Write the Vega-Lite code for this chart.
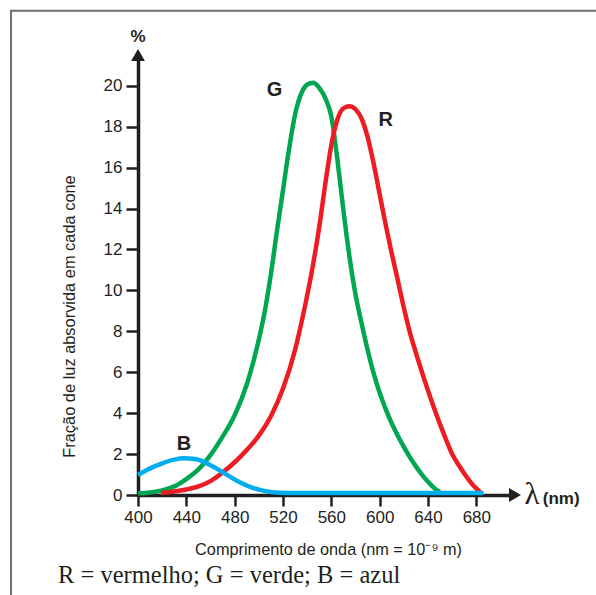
{
  "$schema": "https://vega.github.io/schema/vega-lite/v6.json",
  "width": 377,
  "height": 442,
  "autosize": {"type": "none"},
  "padding": {"left": 138, "top": 53, "right": 81, "bottom": 100},
  "background": "white",
  "config": {"view": {"stroke": null}, "font": "Liberation Sans"},
  "resolve": {"axis": {"x": "independent", "y": "independent"}},
  "datasets": {
    "curves": [
      {"cone": "G", "wavelength": 400, "value": 0.08},
      {"cone": "G", "wavelength": 410, "value": 0.12},
      {"cone": "G", "wavelength": 420, "value": 0.22},
      {"cone": "G", "wavelength": 430, "value": 0.42},
      {"cone": "G", "wavelength": 440, "value": 0.78},
      {"cone": "G", "wavelength": 450, "value": 1.25},
      {"cone": "G", "wavelength": 460, "value": 1.95},
      {"cone": "G", "wavelength": 470, "value": 2.85},
      {"cone": "G", "wavelength": 480, "value": 3.9},
      {"cone": "G", "wavelength": 490, "value": 5.4},
      {"cone": "G", "wavelength": 500, "value": 7.6},
      {"cone": "G", "wavelength": 505, "value": 9.0},
      {"cone": "G", "wavelength": 510, "value": 10.8},
      {"cone": "G", "wavelength": 515, "value": 12.9},
      {"cone": "G", "wavelength": 520, "value": 14.9},
      {"cone": "G", "wavelength": 525, "value": 16.9},
      {"cone": "G", "wavelength": 530, "value": 18.6},
      {"cone": "G", "wavelength": 535, "value": 19.6},
      {"cone": "G", "wavelength": 540, "value": 20.05},
      {"cone": "G", "wavelength": 545, "value": 20.15},
      {"cone": "G", "wavelength": 550, "value": 19.9},
      {"cone": "G", "wavelength": 555, "value": 19.4},
      {"cone": "G", "wavelength": 560, "value": 18.5},
      {"cone": "G", "wavelength": 565, "value": 16.4},
      {"cone": "G", "wavelength": 570, "value": 13.9},
      {"cone": "G", "wavelength": 575, "value": 11.65},
      {"cone": "G", "wavelength": 580, "value": 9.8},
      {"cone": "G", "wavelength": 585, "value": 8.4},
      {"cone": "G", "wavelength": 590, "value": 7.1},
      {"cone": "G", "wavelength": 595, "value": 5.95},
      {"cone": "G", "wavelength": 600, "value": 5.0},
      {"cone": "G", "wavelength": 605, "value": 4.2},
      {"cone": "G", "wavelength": 610, "value": 3.5},
      {"cone": "G", "wavelength": 615, "value": 2.9},
      {"cone": "G", "wavelength": 620, "value": 2.35},
      {"cone": "G", "wavelength": 625, "value": 1.85},
      {"cone": "G", "wavelength": 630, "value": 1.4},
      {"cone": "G", "wavelength": 635, "value": 1.0},
      {"cone": "G", "wavelength": 640, "value": 0.65},
      {"cone": "G", "wavelength": 645, "value": 0.35},
      {"cone": "G", "wavelength": 650, "value": 0.12},
      {"cone": "R", "wavelength": 419, "value": 0.1},
      {"cone": "R", "wavelength": 430, "value": 0.17},
      {"cone": "R", "wavelength": 440, "value": 0.27},
      {"cone": "R", "wavelength": 450, "value": 0.42},
      {"cone": "R", "wavelength": 460, "value": 0.68},
      {"cone": "R", "wavelength": 470, "value": 1.1},
      {"cone": "R", "wavelength": 480, "value": 1.6},
      {"cone": "R", "wavelength": 490, "value": 2.2},
      {"cone": "R", "wavelength": 500, "value": 2.9},
      {"cone": "R", "wavelength": 510, "value": 3.85},
      {"cone": "R", "wavelength": 520, "value": 5.2},
      {"cone": "R", "wavelength": 530, "value": 7.1},
      {"cone": "R", "wavelength": 537, "value": 8.9},
      {"cone": "R", "wavelength": 545, "value": 11.3},
      {"cone": "R", "wavelength": 550, "value": 13.1},
      {"cone": "R", "wavelength": 555, "value": 15.2},
      {"cone": "R", "wavelength": 560, "value": 17.1},
      {"cone": "R", "wavelength": 565, "value": 18.35},
      {"cone": "R", "wavelength": 570, "value": 18.9},
      {"cone": "R", "wavelength": 575, "value": 19.0},
      {"cone": "R", "wavelength": 580, "value": 18.85},
      {"cone": "R", "wavelength": 585, "value": 18.4},
      {"cone": "R", "wavelength": 590, "value": 17.5},
      {"cone": "R", "wavelength": 595, "value": 16.2},
      {"cone": "R", "wavelength": 600, "value": 14.7},
      {"cone": "R", "wavelength": 605, "value": 13.2},
      {"cone": "R", "wavelength": 610, "value": 11.8},
      {"cone": "R", "wavelength": 615, "value": 10.5},
      {"cone": "R", "wavelength": 620, "value": 9.15},
      {"cone": "R", "wavelength": 625, "value": 7.95},
      {"cone": "R", "wavelength": 630, "value": 6.95},
      {"cone": "R", "wavelength": 635, "value": 6.0},
      {"cone": "R", "wavelength": 640, "value": 5.1},
      {"cone": "R", "wavelength": 645, "value": 4.25},
      {"cone": "R", "wavelength": 650, "value": 3.45},
      {"cone": "R", "wavelength": 655, "value": 2.7},
      {"cone": "R", "wavelength": 660, "value": 2.0},
      {"cone": "R", "wavelength": 665, "value": 1.5},
      {"cone": "R", "wavelength": 670, "value": 1.05},
      {"cone": "R", "wavelength": 677, "value": 0.5},
      {"cone": "R", "wavelength": 683, "value": 0.15},
      {"cone": "B", "wavelength": 400, "value": 0.98},
      {"cone": "B", "wavelength": 410, "value": 1.3},
      {"cone": "B", "wavelength": 420, "value": 1.55},
      {"cone": "B", "wavelength": 430, "value": 1.73},
      {"cone": "B", "wavelength": 438, "value": 1.79},
      {"cone": "B", "wavelength": 445, "value": 1.77},
      {"cone": "B", "wavelength": 451, "value": 1.7},
      {"cone": "B", "wavelength": 460, "value": 1.45},
      {"cone": "B", "wavelength": 470, "value": 1.12},
      {"cone": "B", "wavelength": 476, "value": 0.9},
      {"cone": "B", "wavelength": 485, "value": 0.6},
      {"cone": "B", "wavelength": 495, "value": 0.35},
      {"cone": "B", "wavelength": 501, "value": 0.25},
      {"cone": "B", "wavelength": 510, "value": 0.15},
      {"cone": "B", "wavelength": 518, "value": 0.11},
      {"cone": "B", "wavelength": 530, "value": 0.1},
      {"cone": "B", "wavelength": 686, "value": 0.1}
    ],
    "labels": [
      {"cone": "G", "wavelength": 513, "value": 19.8},
      {"cone": "R", "wavelength": 605, "value": 18.33},
      {"cone": "B", "wavelength": 438, "value": 2.49}
    ]
  },
  "layer": [
    {
      "data": {"values": [{"frame": 1}]},
      "mark": {"type": "rect", "fillOpacity": 0, "fill": "white", "stroke": "#6f6f6f", "strokeWidth": 2},
      "encoding": {
        "x": {"datum": 294.9, "type": "quantitative", "scale": {"domain": [400, 712], "nice": false, "zero": false}, "axis": null},
        "x2": {"datum": 900},
        "y": {"datum": 23.66, "type": "quantitative", "scale": {"domain": [0, 21.6], "nice": false}, "axis": null},
        "y2": {"datum": -8}
      }
    },
    {
      "data": {"name": "curves"},
      "mark": {"type": "line", "interpolate": "monotone", "strokeWidth": 4.5, "strokeCap": "butt"},
      "encoding": {
        "x": {
          "field": "wavelength", "type": "quantitative",
          "scale": {"domain": [400, 712], "nice": false, "zero": false},
          "axis": {
            "values": [400, 440, 480, 520, 560, 600, 640, 680],
            "title": "Comprimento de onda (nm = 10⁻⁹ m)",
            "titleFontSize": 16.3, "titleFontWeight": "normal", "titleColor": "#231f20",
            "titleX": 190, "titleY": 59, "titleAlign": "center", "titleBaseline": "alphabetic", "titleAnchor": null,
            "labelFontSize": 17, "labelColor": "#231f20", "labelPadding": 3,
            "labelFlush": false, "labelOverlap": false,
            "tickSize": 11, "tickWidth": 2.5, "tickColor": "#231f20",
            "domainColor": "#231f20", "domainWidth": 3.5, "grid": false
          }
        },
        "y": {
          "field": "value", "type": "quantitative",
          "scale": {"domain": [0, 21.6], "nice": false},
          "axis": {
            "values": [0, 2, 4, 6, 8, 10, 12, 14, 16, 18, 20],
            "title": "Fração de luz absorvida em cada cone",
            "titleFontSize": 16.4, "titleFontWeight": "normal", "titleColor": "#231f20",
            "titleX": -61, "titleY": 263, "titleAngle": -90, "titleAlign": "center", "titleBaseline": "bottom", "titleAnchor": null,
            "labelFontSize": 17, "labelColor": "#231f20", "labelPadding": 4,
            "labelFlush": false, "labelOverlap": false,
            "tickSize": 12, "tickWidth": 2.5, "tickColor": "#231f20",
            "domainColor": "#231f20", "domainWidth": 3.5, "grid": false
          }
        },
        "color": {
          "field": "cone", "type": "nominal",
          "scale": {"domain": ["R", "G", "B"], "range": ["#ed1c24", "#00a651", "#00aeef"]},
          "legend": null
        }
      }
    },
    {
      "data": {"name": "labels"},
      "mark": {"type": "text", "fontSize": 20, "fontWeight": "bold", "color": "#231f20", "align": "center", "baseline": "middle"},
      "encoding": {
        "x": {"field": "wavelength", "type": "quantitative", "axis": null},
        "y": {"field": "value", "type": "quantitative", "axis": null},
        "text": {"field": "cone"}
      }
    },
    {
      "data": {"values": [{"a": 1}]},
      "mark": {"type": "point", "shape": "triangle-right", "filled": true, "size": 190, "color": "#231f20", "opacity": 1},
      "encoding": {
        "x": {"datum": 712, "type": "quantitative", "axis": null},
        "y": {"datum": 0, "type": "quantitative", "axis": null}
      }
    },
    {
      "data": {"values": [{"a": 1}]},
      "mark": {"type": "point", "shape": "triangle-up", "filled": true, "size": 190, "color": "#231f20", "opacity": 1},
      "encoding": {
        "x": {"datum": 400, "type": "quantitative", "axis": null},
        "y": {"datum": 21.5, "type": "quantitative", "axis": null}
      }
    },
    {
      "data": {"values": [{"a": 1}]},
      "mark": {"type": "text", "text": "%", "fontSize": 17, "fontWeight": "bold", "color": "#231f20", "align": "center", "baseline": "middle"},
      "encoding": {
        "x": {"datum": 400, "type": "quantitative", "axis": null},
        "y": {"datum": 22.38, "type": "quantitative", "axis": null}
      }
    },
    {
      "data": {"values": [{"a": 1}]},
      "mark": {"type": "text", "text": "λ", "font": "Liberation Serif", "fontSize": 31, "color": "#231f20", "align": "center", "baseline": "middle"},
      "encoding": {
        "x": {"datum": 726, "type": "quantitative", "axis": null},
        "y": {"datum": 0, "type": "quantitative", "axis": null}
      }
    },
    {
      "data": {"values": [{"a": 1}]},
      "mark": {"type": "text", "text": "(nm)", "fontSize": 17, "fontWeight": "bold", "color": "#231f20", "align": "left", "baseline": "middle", "dy": 4},
      "encoding": {
        "x": {"datum": 735, "type": "quantitative", "axis": null},
        "y": {"datum": 0, "type": "quantitative", "axis": null}
      }
    },
    {
      "data": {"values": [{"a": 1}]},
      "mark": {"type": "text", "text": "R = vermelho; G = verde; B = azul", "font": "Liberation Serif", "fontSize": 24.5, "color": "#231f20", "align": "left", "baseline": "alphabetic"},
      "encoding": {
        "x": {"datum": 333.8, "type": "quantitative", "axis": null},
        "y": {"datum": -4.3, "type": "quantitative", "axis": null}
      }
    }
  ]
}
